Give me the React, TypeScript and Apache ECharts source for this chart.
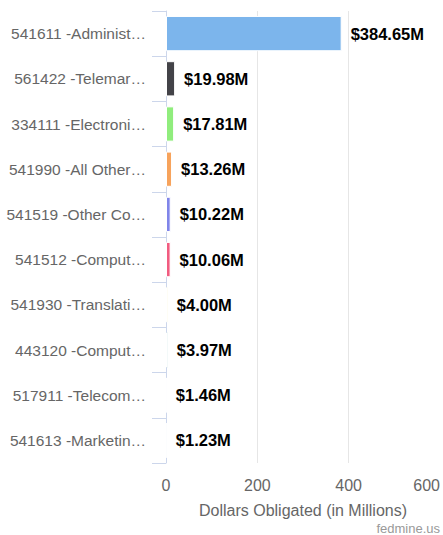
import React, { useEffect, useRef } from "react";
import * as echarts from "echarts";

const categories = [
  "541611 -Administ…",
  "561422 -Telemar…",
  "334111 -Electroni…",
  "541990 -All Other…",
  "541519 -Other Co…",
  "541512 -Comput…",
  "541930 -Translati…",
  "443120 -Comput…",
  "517911 -Telecom…",
  "541613 -Marketin…",
];
const values = [384.65, 19.98, 17.81, 13.26, 10.22, 10.06, 4.0, 3.97, 1.46, 1.23];
const colors = [
  "#7cb5ec",
  "#434348",
  "#90ed7d",
  "#f7a35c",
  "#8085e9",
  "#f15c80",
  "#e4d354",
  "#2b908f",
  "#f45b5b",
  "#91e8e1",
];
const xTicks = { min: 0, max: 600, interval: 200 };
const axisTitle = "Dollars Obligated (in Millions)";
const credit = "fedmine.us";

export default function App() {
  const ref = useRef<HTMLDivElement>(null);
  useEffect(() => {
    if (!ref.current) return;
    const chart = echarts.init(ref.current, undefined, { renderer: "svg" });
    const font = "'Liberation Sans', Arial, sans-serif";
    chart.setOption({
      animation: false,
      textStyle: { fontFamily: font },
      grid: { left: 166, right: 0, top: 11, bottom: 72, containLabel: false },
      xAxis: {
        type: "value",
        min: xTicks.min,
        max: xTicks.max,
        interval: xTicks.interval,
        axisLine: { show: false },
        axisTick: { show: false },
        splitLine: {
          show: true,
          lineStyle: {
            color: ["#e6e6e6", "#e6e6e6", "#e6e6e6", "rgba(0,0,0,0)"],
            width: 1,
          },
        },
        axisLabel: {
          color: "#666",
          fontSize: 16,
          margin: 14,
          alignMaxLabel: "right",
          fontFamily: font,
        },
        name: axisTitle,
        nameLocation: "middle",
        nameGap: 39,
        nameTextStyle: { color: "#666", fontSize: 16, fontFamily: font },
      },
      yAxis: {
        type: "category",
        data: categories,
        inverse: true,
        axisLine: { show: true, lineStyle: { color: "#ccd6eb", width: 1 } },
        axisTick: { show: true, length: 14, lineStyle: { color: "#ccd6eb" } },
        splitLine: { show: false },
        axisLabel: {
          color: "#666",
          fontSize: 15.5,
          margin: 20,
          fontFamily: font,
        },
      },
      series: [
        {
          type: "bar",
          barCategoryGap: "22%",
          data: values.map((v, i) => ({
            value: v,
            itemStyle: { color: colors[i], borderColor: "#fff", borderWidth: 1 },
          })),
          label: {
            show: true,
            position: "right",
            distance: 9,
            color: "#000",
            fontSize: 16.5,
            fontWeight: "bold",
            fontFamily: font,
            formatter: (p: any) => "$" + Number(p.value).toFixed(2) + "M",
          },
        },
      ],
      graphic: [
        {
          type: "text",
          right: 3,
          bottom: 0,
          style: {
            text: credit,
            fill: "#999",
            font: "13px 'Liberation Sans', Arial, sans-serif",
          },
        },
      ],
    });
    return () => chart.dispose();
  }, []);
  return (
    <div
      ref={ref}
      style={{ position: "fixed", left: 0, top: 0, width: 443, height: 535, background: "#fff" }}
    />
  );
}
